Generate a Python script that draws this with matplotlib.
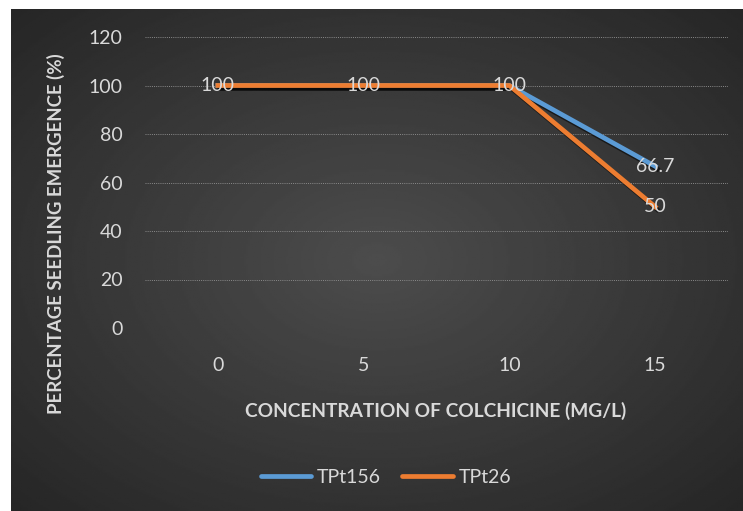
import numpy as np
import matplotlib.pyplot as plt
import matplotlib.patheffects as pe

plt.rcParams['font.family'] = ['Lato', 'DejaVu Sans']

concentrations = ['0', '5', '10', '15']
tpt156 = [100, 100, 100, 66.7]
tpt26 = [100, 100, 100, 50]
labels156 = ['100', '100', '100', '66.7']
labels26 = ['100', '100', '100', '50']

W, H = 743, 511
fig = plt.figure(figsize=(W / 100, H / 100), dpi=100)
fig.patch.set_facecolor('white')

# dark radial-gradient panel
bg = fig.add_axes([11 / W, 0, (W - 11) / W, (H - 9) / H])
yy, xx = np.mgrid[0:1:300j, 0:1:400j]
r = np.sqrt(((xx - 0.5) / 0.75) ** 2 + ((yy - 0.5) / 0.75) ** 2)
shade = 0.30 - 0.16 * np.clip(r, 0, 1)
bg.imshow(shade, cmap='gray', vmin=0, vmax=1, aspect='auto', extent=[0, 1, 0, 1])
bg.axis('off')

txt = '#d9d9d9'
ax = fig.add_axes([145 / W, 1 - 328 / H, (728 - 145) / W, (328 - 37) / H])
ax.patch.set_alpha(0)
x = np.arange(len(concentrations))
shadow = [pe.SimpleLineShadow(offset=(1.5, -2), shadow_color='black', alpha=0.55), pe.Normal()]
ax.plot(x, tpt156, color='#5B9BD5', lw=3.4, label='TPt156', path_effects=shadow, zorder=3)
ax.plot(x, tpt26, color='#ED7D31', lw=3.4, label='TPt26', path_effects=shadow, zorder=4)

for i in range(len(x)):
    if labels156[i] != labels26[i]:
        ax.text(x[i], tpt156[i], labels156[i], color=txt, fontsize=14, ha='center', va='center', zorder=5)
    ax.text(x[i], tpt26[i], labels26[i], color=txt, fontsize=14, ha='center', va='center', zorder=5)

ax.set_xlim(-0.5, 3.5)
ax.set_ylim(0, 120)
ax.set_yticks(range(0, 121, 20))
ax.set_xticks(x)
ax.set_xticklabels(concentrations)
ax.grid(axis='y', color='#8a8a8a', ls=(0, (1, 1.2)), lw=0.7)
ax.tick_params(colors=txt, labelsize=14, length=0)
ax.tick_params(axis='x', pad=21)
ax.tick_params(axis='y', pad=16)
for s in ax.spines.values():
    s.set_visible(False)

fig.text(436 / W, 1 - 411 / H, 'CONCENTRATION OF COLCHICINE (MG/L)', color=txt,
         fontsize=13.8, fontweight='bold', ha='center', va='center')
fig.text(56 / W, 1 - 233.5 / H, 'PERCENTAGE SEEDLING EMERGENCE (%)', color=txt,
         fontsize=13.4, fontweight='bold', ha='center', va='center', rotation=90)

leg = fig.legend(loc='center', bbox_to_anchor=(386 / W, 1 - 477 / H), ncol=2, frameon=False,
                 fontsize=14, labelcolor=txt, handlelength=2.6, columnspacing=1.1,
                 handletextpad=0.3)
for h in leg.legend_handles:
    h.set_path_effects([])
    h.set_solid_capstyle('round')

fig.savefig('out.png', dpi=100)
